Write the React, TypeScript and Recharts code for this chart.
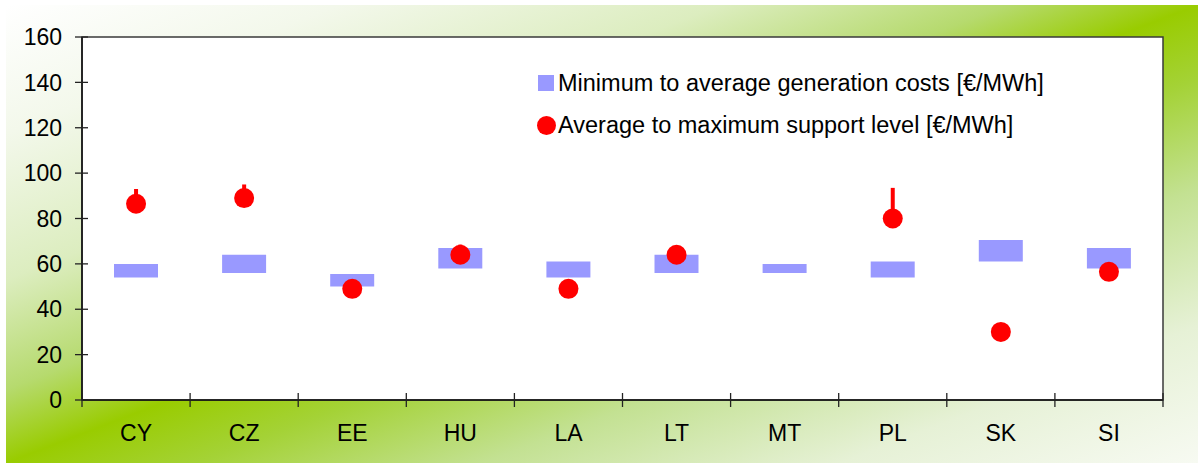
import React from "react";
import {
  Bar,
  CartesianGrid,
  ComposedChart,
  ErrorBar,
  Legend,
  Line,
  ReferenceArea,
  XAxis,
  YAxis,
} from "recharts";

// countries, left to right
const countries = ["CY", "CZ", "EE", "HU", "LA", "LT", "MT", "PL", "SK", "SI"];

// generation costs [€/MWh]: min and average (floating bar)
const costMin = [54, 56, 50, 58, 54, 56, 56, 54, 61, 58];
const costAvg = [60, 64, 55.5, 67, 61, 64, 60, 61, 70.5, 67];

// support level [€/MWh]: average (dot) and maximum (line above dot)
const supportAvg = [86.5, 89, 49, 64, 49, 64, null, 80, 30, 56.5];
const supportMax = [93, 95, null, 68.5, null, null, null, 93.5, null, null];

const yTicks = [0, 20, 40, 60, 80, 100, 120, 140, 160];

const costName = "Minimum to average generation costs [€/MWh]";
const supportName = "Average to maximum support level [€/MWh]";

const data = countries.map((name, i) => ({
  name,
  cost: [costMin[i], costAvg[i]],
  support: supportAvg[i],
  supportErr:
    supportMax[i] != null && supportAvg[i] != null
      ? [0, supportMax[i]! - supportAvg[i]!]
      : undefined,
}));

const W = 1198;
const H = 464;
const MARGIN = { top: 37, right: 35, left: 0, bottom: 0 };
const Y_WIDTH = 82;
const X_HEIGHT = 64;
const PLOT_W = W - MARGIN.left - MARGIN.right - Y_WIDTH;
const BAND = PLOT_W / countries.length;

const FONT = '"Liberation Sans", Arial, sans-serif';
const Y_TICK_SIZE = 7;
const Y_TICK_MARGIN = 13;
const X_TICK_SIZE = 7;
const X_TICK_MARGIN = 18;

// y ticks cross the axis line
function YTick(props: any) {
  const { x, y, payload } = props;
  const axisX = x + Y_TICK_SIZE + Y_TICK_MARGIN;
  return (
    <g>
      <line x1={axisX - 7} x2={axisX + 6} y1={y} y2={y} stroke="#222" strokeWidth={1.3} />
      <text
        x={x}
        y={y}
        dy="0.355em"
        textAnchor="end"
        fontSize={23}
        fontFamily={FONT}
        fill="#000"
      >
        {payload.value}
      </text>
    </g>
  );
}

// x ticks sit on the category boundaries, labels in the middle
function XTick(props: any) {
  const { x, y, payload } = props;
  const idx = payload.index ?? props.index;
  const axisY = y - X_TICK_SIZE - X_TICK_MARGIN;
  const left = x - BAND / 2;
  const right = x + BAND / 2;
  return (
    <g>
      <line x1={left} x2={left} y1={axisY - 7} y2={axisY + 7} stroke="#222" strokeWidth={1.3} />
      {idx === countries.length - 1 && (
        <line x1={right} x2={right} y1={axisY - 7} y2={axisY + 7} stroke="#222" strokeWidth={1.3} />
      )}
      <text
        x={x}
        y={y}
        dy="0.71em"
        textAnchor="middle"
        fontSize={23}
        fontFamily={FONT}
        fill="#000"
      >
        {payload.value}
      </text>
    </g>
  );
}

function LegendContent(props: any) {
  // bars first, then the dots
  const payload = [...(props.payload || [])].sort(
    (a: any, b: any) => (a.type === "square" ? 0 : 1) - (b.type === "square" ? 0 : 1),
  );
  return (
    <div style={{ fontFamily: FONT, fontSize: 23.5, color: "#000" }}>
      {payload.map((entry: any) => (
        <div
          key={entry.value}
          style={{ display: "flex", alignItems: "center", height: 42, whiteSpace: "nowrap" }}
        >
          {entry.type === "circle" ? (
            <span
              style={{
                display: "inline-block",
                width: 19,
                height: 19,
                borderRadius: "50%",
                background: "#ff0000",
                marginRight: 2,
              }}
            />
          ) : (
            <span
              style={{
                display: "inline-block",
                width: 16,
                height: 16,
                background: "#9999ff",
                marginLeft: 1,
                marginRight: 4,
              }}
            />
          )}
          <span>{entry.value}</span>
        </div>
      ))}
    </div>
  );
}

export default function App() {
  return (
    <div
      style={{
        position: "absolute",
        left: 0,
        top: 0,
        width: W,
        height: H,
        background: "#fff",
        fontFamily: FONT,
      }}
    >
      <div
        style={{
          position: "absolute",
          left: 6,
          top: 5,
          right: 0,
          bottom: 1,
          background:
            "linear-gradient(to bottom right, #ffffff 0%, #f3f8eb 14%, #dcedbf 30%, #b6da6e 42%, #99cc00 50%, #a4d236 58%, #c3e192 70%, #e6f1d6 85%, #f7faf2 100%)",
        }}
      />
      <div style={{ position: "absolute", left: 0, top: 0 }}>
        <ComposedChart width={W} height={H} data={data} margin={MARGIN}>
          <CartesianGrid horizontal={false} vertical={false} fill="#ffffff" fillOpacity={1} />
          <XAxis
            dataKey="name"
            height={X_HEIGHT}
            tickLine={false}
            tickSize={X_TICK_SIZE}
            tickMargin={X_TICK_MARGIN}
            axisLine={{ stroke: "#111", strokeWidth: 1.5 }}
            tick={<XTick />}
            interval={0}
          />
          <YAxis
            domain={[0, 160]}
            ticks={yTicks}
            interval={0}
            width={Y_WIDTH}
            tickLine={false}
            tickSize={Y_TICK_SIZE}
            tickMargin={Y_TICK_MARGIN}
            axisLine={{ stroke: "#111", strokeWidth: 1.5 }}
            tick={<YTick />}
          />
          <ReferenceArea y1={0} y2={160} fill="none" stroke="#3a3a3a" strokeWidth={1.5} />
          <Bar
            dataKey="cost"
            name={costName}
            fill="#9999ff"
            barSize={44}
            legendType="square"
            isAnimationActive={false}
          />
          <Line
            dataKey="support"
            name={supportName}
            stroke="none"
            legendType="circle"
            dot={{ r: 10, fill: "#ff0000", stroke: "none" }}
            activeDot={false}
            isAnimationActive={false}
          >
            <ErrorBar
              dataKey="supportErr"
              direction="y"
              width={0}
              stroke="#ff0000"
              strokeWidth={4}
            />
          </Line>
          <Legend
            layout="vertical"
            align="center"
            verticalAlign="middle"
            content={<LegendContent />}
            wrapperStyle={{ position: "absolute", left: 537, top: 62, width: "auto", height: "auto" }}
          />
        </ComposedChart>
      </div>
    </div>
  );
}
